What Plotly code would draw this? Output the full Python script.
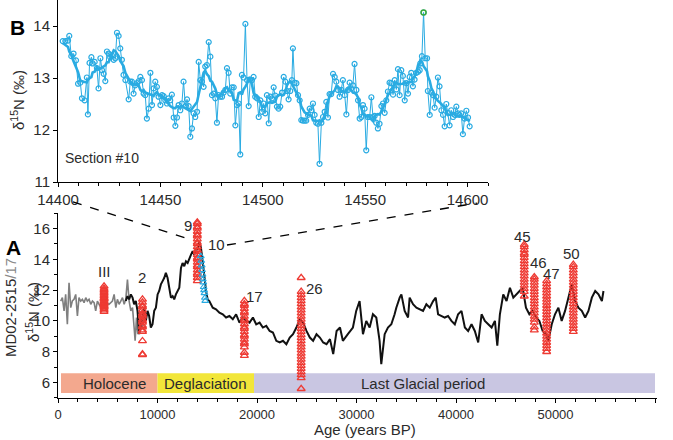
import plotly.graph_objects as go
import pandas as pd

# ---------------- Panel B data (Section #10) ----------------
b_age = [14402.3, 14403.6, 14404.9, 14405.5, 14406.5, 14407.6, 14408.8, 14409.8, 14410.9, 14411.7,
         14413.0, 14414.1, 14414.6, 14415.4, 14416.3, 14416.9, 14417.9, 14419.0, 14419.8, 14420.7,
         14421.5, 14422.3, 14423.1, 14423.9, 14424.7, 14425.5, 14426.3, 14427.2, 14428.0, 14428.8,
         14429.6, 14430.4, 14431.2, 14432.0, 14432.9, 14434.5, 14435.3, 14436.1, 14436.9, 14437.7,
         14438.6, 14439.4, 14440.2, 14441.0, 14441.8, 14442.6, 14443.4, 14444.3, 14445.1, 14445.9,
         14446.7, 14447.5, 14448.3, 14449.1, 14450.0, 14450.8, 14451.6, 14452.4, 14453.2, 14454.0,
         14454.8, 14455.6, 14456.5, 14457.3, 14458.1, 14458.9, 14459.7, 14460.5, 14461.3, 14462.2,
         14463.0, 14463.8, 14464.6, 14465.4, 14466.2, 14467.0, 14467.9, 14468.7, 14469.5, 14470.3,
         14471.1, 14471.9, 14472.7, 14473.6, 14474.4, 14475.2, 14476.0, 14476.8, 14477.6, 14478.4,
         14479.2, 14480.1, 14480.9, 14481.7, 14482.5, 14483.3, 14484.1, 14484.9, 14485.8, 14486.6,
         14487.4, 14488.2, 14489.0, 14489.8, 14490.6, 14491.5, 14492.3, 14493.1, 14493.9, 14494.7,
         14495.5, 14496.3, 14497.2, 14498.0, 14498.8, 14499.6, 14500.4, 14501.2, 14502.0, 14502.9,
         14503.7, 14504.5, 14505.3, 14506.1, 14506.9, 14507.7, 14508.5, 14509.4, 14510.2, 14511.0,
         14511.8, 14512.6, 14513.4, 14514.2, 14514.7, 14515.5, 14516.4, 14517.2, 14518.0, 14518.8,
         14519.6, 14520.4, 14521.2, 14522.1, 14522.9, 14523.7, 14524.5, 14525.3, 14526.1, 14526.9,
         14527.7, 14528.6, 14529.4, 14530.2, 14531.0, 14531.8, 14532.6, 14533.4, 14534.3, 14535.1,
         14535.9, 14536.7, 14537.5, 14538.3, 14539.1, 14540.0, 14540.8, 14541.6, 14542.4, 14543.2,
         14544.0, 14544.8, 14545.7, 14546.5, 14547.3, 14548.1, 14548.9, 14549.7, 14550.5, 14551.3,
         14552.2, 14553.0, 14553.8, 14554.6, 14555.4, 14556.2, 14557.0, 14557.9, 14558.7, 14559.5,
         14560.3, 14561.1, 14561.9, 14562.7, 14563.6, 14564.4, 14565.2, 14566.0, 14566.8, 14567.6,
         14568.4, 14569.3, 14570.1, 14570.9, 14571.7, 14572.5, 14573.3, 14574.1, 14575.0, 14575.8,
         14576.6, 14576.9, 14577.7, 14578.5, 14579.3, 14580.2, 14580.6, 14581.5, 14582.3, 14583.1,
         14583.9, 14584.7, 14585.5, 14586.3, 14587.2, 14588.0, 14588.8, 14589.6, 14590.4, 14591.2,
         14592.0, 14592.9, 14593.7, 14594.5, 14595.3, 14596.1, 14596.9, 14597.7, 14598.5, 14599.4,
         14600.2, 14601.0]
b_d15n = [13.71, 13.71, 13.72, 13.81, 13.42, 13.47, 13.34, 12.89, 12.91, 12.61,
          12.57, 13.01, 12.30, 13.29, 13.40, 13.28, 13.31, 13.19, 12.80, 13.38,
          13.15, 13.08, 12.94, 13.51, 13.47, 13.40, 13.44, 13.35, 13.38, 13.87,
          13.81, 13.57, 13.35, 13.06, 12.96, 12.59, 12.93, 12.93, 12.70, 12.86,
          12.90, 12.94, 13.02, 12.96, 12.70, 12.67, 12.22, 12.41, 13.10, 12.48,
          12.80, 12.93, 12.83, 12.64, 12.48, 12.67, 12.65, 12.57, 12.51, 12.61,
          12.57, 12.68, 12.24, 12.08, 12.24, 12.48, 12.38, 12.51, 12.93, 12.46,
          12.59, 12.46, 11.87, 12.03, 12.32, 12.25, 12.35, 13.31, 12.96, 12.93,
          12.83, 13.22, 13.25, 13.69, 13.41, 12.67, 12.70, 12.61, 12.14, 12.67,
          12.64, 12.64, 12.72, 12.77, 13.19, 13.10, 12.70, 12.82, 12.82, 12.09,
          12.48, 12.51, 11.53, 13.06, 13.01, 14.04, 12.96, 12.46, 12.97, 12.96,
          13.02, 12.64, 12.61, 12.25, 12.57, 12.35, 12.51, 12.32, 12.67, 12.13,
          12.64, 12.61, 12.82, 12.66, 12.45, 12.41, 12.45, 12.72, 13.02, 12.93,
          12.75, 12.59, 12.75, 12.96, 13.57, 12.91, 12.90, 12.67, 12.57, 12.19,
          12.18, 12.18, 12.18, 12.29, 12.41, 12.38, 12.51, 12.29, 12.14, 12.12,
          11.35, 12.14, 12.25, 12.35, 12.54, 12.24, 12.69, 12.69, 13.08, 13.02,
          12.93, 12.77, 12.64, 12.77, 12.96, 12.67, 12.30, 12.77, 12.91, 12.80,
          12.86, 13.27, 12.77, 12.57, 12.22, 12.25, 12.48, 12.41, 11.61, 12.25,
          12.25, 12.63, 12.25, 12.27, 12.14, 12.03, 12.12, 12.46, 12.51, 12.33,
          12.57, 12.74, 12.91, 12.90, 12.68, 12.96, 12.78, 13.17, 12.67, 13.15,
          13.04, 12.57, 12.90, 12.70, 13.02, 13.10, 12.84, 12.97, 13.10, 13.12,
          13.15, 13.28, 13.42, 14.26, 13.38, 13.38, 12.75, 12.29, 12.72, 12.67,
          12.43, 12.64, 13.01, 12.84, 12.38, 12.29, 12.07, 12.50, 12.33, 12.09,
          12.38, 12.25, 12.29, 12.45, 12.32, 12.29, 12.32, 11.92, 12.22, 12.37,
          12.24, 12.07]

# ---------------- Panel A data ----------------
gray_age = [270, 440, 610, 770, 940, 1110, 1280, 1440, 1610, 1780, 1950, 2110, 2280, 2450, 2620,
            2790, 2950, 3120, 3290, 3460, 3630, 3790, 3960, 4130, 4300, 4460, 4800, 5130, 5470,
            5640, 5810, 5970, 6140, 6310, 6480, 6650, 6810, 6980, 7150, 7320, 7490, 7650, 7750,
            7890, 8020, 8160, 8320, 8490, 8660, 8830]
gray_d15n = [11.29, 11.51, 10.65, 11.72, 9.78, 12.47, 10.86, 11.29, 11.40, 11.72, 10.32, 11.51,
             11.29, 11.40, 11.18, 11.51, 11.29, 11.40, 11.08, 11.29, 11.18, 10.65, 11.29, 11.08,
             10.86, 10.97, 11.18, 11.08, 11.29, 11.72, 10.86, 11.40, 11.08, 11.29, 11.51, 11.08,
             11.40, 12.69, 11.29, 10.65, 10.86, 9.57, 8.71, 10.22, 9.14, 10.65, 10.22, 9.57,
             10.32, 10.0]

black_age = [6810, 6980, 7150, 7320, 7490, 7650, 7820, 7990, 8160, 8320, 8490, 8660, 8830, 9000,
             9160, 9330, 9500, 9670, 9840, 10010, 10170, 10340, 10510, 10680, 10840, 11010, 11180,
             11350, 11520, 11680, 11850, 12020, 12190, 12360, 12520, 12690, 12860, 13030, 13200,
             13370, 13530, 13700, 13870, 14040, 14200, 14370, 14540, 14710, 14880, 15040, 15210,
             15550, 15880, 16220, 16560, 16890, 17230, 17570, 17900, 18240, 18580, 18910, 19250,
             19590, 19920, 20260, 20590, 20930, 21270, 21600, 21940, 22280, 22610, 22950, 23290,
             23620, 23960, 24300, 24630, 24970, 25310, 25640, 25980, 26320, 26650, 26990, 27330,
             27660, 28000, 28340, 28630, 29130, 29640, 29970, 30310, 30650, 30980, 31320, 31650,
             31990, 32320, 32490, 32830, 33160, 33500, 33830, 34000, 34340, 34510, 34840, 35180,
             35340, 35680, 36020, 36350, 36690, 37020, 37360, 37700, 37960, 38200, 38530, 38870,
             39200, 39540, 39880, 40210, 40550, 40890, 41220, 41560, 41890, 42230, 42570, 42900,
             43240, 43580, 43910, 44150, 44410, 44750, 45080, 45420, 45760, 46090, 46430, 46700,
             47030, 47370, 47700, 48040, 48380, 48710, 49050, 49280, 49620, 49950, 50290, 50620,
             50960, 51300, 51630, 51970, 52300, 52640, 52980, 53310, 53650, 53990, 54320, 54660,
             54820]
black_d15n = [11.29, 11.61, 11.40, 11.72, 11.51, 11.08, 11.29, 10.65, 9.14, 9.78, 10.43, 10.86,
              10.0, 10.65, 10.32, 9.57, 9.78, 10.65, 10.86, 11.72, 11.94, 12.37, 12.58, 12.80,
              13.12, 12.80, 12.15, 11.51, 11.61, 11.40, 11.72, 11.94, 12.15, 13.44, 13.76, 13.55,
              13.87, 13.76, 13.98, 14.30, 14.52, 14.30, 14.73, 14.62, 15.16, 14.73, 13.87, 12.80,
              11.94, 11.40, 11.29, 10.86, 10.75, 10.54, 10.43, 10.22, 10.32, 10.11, 10.43, 9.89,
              10.22, 10.0, 9.89, 10.22, 9.78, 9.89, 9.57, 9.68, 9.35, 9.25, 8.71, 8.60, 8.71,
              8.49, 8.92, 9.14, 9.57, 10.11, 9.89, 9.35, 8.92, 8.71, 9.14, 8.92, 8.60, 8.49, 8.82,
              7.85, 9.35, 9.57, 8.71, 9.14, 9.57, 10.65, 11.29, 9.14, 10.0, 9.57, 10.43, 10.22,
              8.71, 7.20, 9.14, 9.57, 9.78, 10.43, 10.86, 11.51, 11.72, 10.65, 10.22, 11.51,
              11.08, 10.86, 10.75, 10.65, 11.08, 10.86, 11.29, 11.51, 10.43, 10.32, 10.22, 10.32,
              10.0, 9.78, 10.43, 10.65, 9.57, 9.35, 9.78, 9.35, 8.60, 10.43, 10.0, 9.78, 9.57,
              10.0, 8.39, 10.43, 11.72, 11.29, 12.15, 11.51, 11.72, 11.94, 12.15, 10.86, 10.43,
              10.65, 10.22, 10.0, 9.35, 9.14, 8.71, 9.78, 10.43, 10.86, 10.0, 10.65, 11.51,
              12.37, 11.29, 10.86, 10.65, 10.22, 10.65, 11.51, 11.94, 11.72, 11.29, 11.94]

# Discrete sections (red triangles), age and measured values
sec_names = ["III", "2", "9", "17", "26", "45", "46", "47", "50"]
sec_ages = [4630, 8490, 14000, 18730, 24440, 46860, 47870, 49110, 51790]
sec_vals = [
    [12.25, 12.1, 12.0, 11.9, 11.8, 11.7, 11.6, 11.5, 11.45, 11.4, 11.3, 11.2, 11.15, 11.1, 11.0,
     10.95, 10.9, 10.8, 10.7, 10.6],
    [11.4, 11.2, 11.0, 10.9, 10.7, 10.5, 10.4, 10.3, 10.1, 10.0, 9.9, 9.7, 9.6, 9.4, 9.3, 8.7,
     7.85, 7.8],
    [16.4, 16.3, 16.1, 16.0, 15.8, 15.6, 15.5, 15.3, 15.1, 15.0, 14.8, 14.6, 14.5, 14.3, 14.1,
     14.0, 13.8, 13.6, 13.5, 13.3, 13.1, 13.0, 12.8, 12.6],
    [11.3, 11.1, 11.0, 10.8, 10.6, 10.5, 10.3, 10.1, 10.0, 9.8, 9.6, 9.5, 9.3, 9.1, 9.0, 8.8,
     8.6, 8.5, 8.3, 7.95, 7.75],
    [12.8, 11.9, 11.7, 11.5, 11.3, 11.1, 10.9, 10.7, 10.5, 10.3, 10.1, 9.9, 9.7, 9.5, 9.3, 9.1,
     8.9, 8.7, 8.5, 8.3, 8.1, 7.9, 7.7, 7.5, 7.3, 7.1, 6.9, 6.7, 6.5, 6.3, 5.6],
    [14.95, 14.8, 14.6, 14.4, 14.3, 14.1, 13.9, 13.7, 13.5, 13.3, 13.1, 12.9, 12.7, 12.5, 12.3,
     12.1, 11.9, 11.6],
    [12.85, 12.7, 12.5, 12.3, 12.1, 11.9, 11.7, 11.5, 11.3, 11.1, 10.9, 10.7, 10.5, 10.3, 10.1,
     9.9, 9.6, 9.4],
    [12.6, 12.4, 12.2, 12.0, 11.8, 11.6, 11.4, 11.2, 11.0, 10.8, 10.6, 10.4, 10.2, 10.0, 9.8, 9.6,
     9.4, 9.2, 9.0, 8.8, 8.6, 8.4, 8.2, 8.0],
    [13.65, 13.5, 13.3, 13.1, 12.9, 12.7, 12.5, 12.3, 12.1, 11.9, 11.7, 11.5, 11.3, 11.1, 10.9,
     10.7, 10.5, 10.3, 10.1, 9.9, 9.7, 9.5, 9.3],
]
# label positions for the section numbers
sec_label_age = [4630, 8470, 13020, 19740, 25780, 46690, 48270, 49610, 51630]
sec_label_val = [13.2, 12.8, 16.2, 11.6, 12.1, 15.5, 13.76, 13.1, 14.4]

# Section #10 shown in panel A (blue triangles)
sec10_age = [14350, 14400, 14440, 14480, 14520, 14560, 14600, 14640, 14680, 14720, 14760, 14800]
sec10_val = [14.2, 13.9, 13.6, 13.3, 13.0, 12.7, 12.5, 12.2, 12.0, 11.8, 11.5, 11.3]
sec10_label = ("10", 15880, 14.95)

# Climate periods
period_names = ["Holocene", "Deglaciation", "Last Glacial period"]
period_start = [300, 10000, 19700]
period_end = [10000, 19700, 60000]
period_label_x = [5640, 14870, 36650]
period_colors = ["#F3A88E", "#F2E63A", "#C9C6E2"]

# tick labels
a_xticks = [0, 10000, 20000, 30000, 40000, 50000, 60000]
a_yticks = [6, 8, 10, 12, 14, 16]
b_xticks = [14400, 14450, 14500, 14550, 14600]
b_yticks = [11, 12, 13, 14]

# ---------------- Figure ----------------
FONT = "Liberation Sans, Arial, sans-serif"
TXT = "#2b2b2b"
BLUE = "#29ABE2"
RED = "#EE3A33"

fig = go.Figure()

# Panel B
fig.add_trace(go.Scatter(x=b_age, y=b_d15n, mode="lines+markers", xaxis="x2", yaxis="y2",
                         line=dict(color=BLUE, width=1),
                         marker=dict(symbol="circle-open", size=5, color=BLUE, line=dict(width=1.2)),
                         showlegend=False))
smooth = pd.Series(b_d15n).rolling(window=9, center=True, min_periods=3).mean()
fig.add_trace(go.Scatter(x=b_age, y=smooth, mode="lines", xaxis="x2", yaxis="y2",
                         line=dict(color=BLUE, width=2.6), showlegend=False))
imax = b_d15n.index(max(b_d15n))
fig.add_trace(go.Scatter(x=[b_age[imax]], y=[b_d15n[imax]], mode="markers", xaxis="x2", yaxis="y2",
                         marker=dict(symbol="circle-open", size=5, color="#3DAA3D", line=dict(width=1.5)),
                         showlegend=False))

# Panel A
fig.add_trace(go.Scatter(x=gray_age, y=gray_d15n, mode="lines", line=dict(color="#7f7f7f", width=1.6),
                         showlegend=False))
fig.add_trace(go.Scatter(x=black_age, y=black_d15n, mode="lines", line=dict(color="#111111", width=2),
                         showlegend=False))
for age, vals in zip(sec_ages, sec_vals):
    fig.add_trace(go.Scatter(x=[age] * len(vals), y=vals, mode="markers",
                             marker=dict(symbol="triangle-up-open", size=7, color=RED, line=dict(width=1.3)),
                             showlegend=False))
fig.add_trace(go.Scatter(x=sec10_age, y=sec10_val, mode="markers",
                         marker=dict(symbol="triangle-up-open", size=6, color=BLUE, line=dict(width=1.1)),
                         showlegend=False))

shapes = []
for s, e, c in zip(period_start, period_end, period_colors):
    shapes.append(dict(type="rect", xref="x", yref="y", x0=s, x1=e, y0=5.32, y1=6.6,
                       fillcolor=c, line=dict(width=0), layer="below"))
# dashed connector lines (paper coordinates)
shapes.append(dict(type="line", xref="paper", yref="paper", x0=0.025, y0=0.4925, x1=0.2237, y1=0.397,
                   line=dict(color="black", width=1.3, dash="dash")))
shapes.append(dict(type="line", xref="paper", yref="paper", x0=0.2821, y0=0.3844, x1=0.6995, y1=0.4899,
                   line=dict(color="black", width=1.3, dash="dash")))

def txt(text, x, y, xref="paper", yref="paper", size=15, angle=0, xanchor="center", color=TXT):
    return dict(text=text, x=x, y=y, xref=xref, yref=yref, showarrow=False, textangle=angle,
                xanchor=xanchor, yanchor="middle", font=dict(size=size, color=color, family=FONT))

ann = []
for n, x, y in zip(sec_names, sec_label_age, sec_label_val):
    ann.append(txt(n, x, y, "x", "y"))
ann.append(txt(sec10_label[0], sec10_label[1], sec10_label[2], "x", "y"))
for n, x in zip(period_names, period_label_x):
    ann.append(txt(n, x, 5.96, "x", "y"))
ann += [
    txt("<b>A</b>", -0.0735, 0.379, size=21, color="black"),
    txt("<b>B</b>", -0.0684, 0.932, size=21, color="black"),
    txt("MD02-2515<span style='color:#8a8a8a'>/17</span>", -0.0801, 0.226, size=15, angle=-90),
    txt("δ<sup>15</sup>N (‰)", -0.0434, 0.216, size=15, angle=-90),
    txt("δ<sup>15</sup>N (‰)", -0.0684, 0.7487, size=15, angle=-90),
    txt("Age (years BP)", 0.5125, -0.0804, size=15),
    txt("Section #10", 14402.5, 11.46, "x2", "y2", size=14, xanchor="left"),
]

axis_common = dict(showline=True, linecolor="black", linewidth=1, ticks="outside", ticklen=4,
                   tickcolor="black", showgrid=False, zeroline=False)

fig.update_layout(
    width=673, height=440,
    margin=dict(l=58, r=16, t=0, b=42),
    paper_bgcolor="white", plot_bgcolor="white",
    shapes=shapes, annotations=ann,
    xaxis=dict(axis_common, domain=[0, 1], range=[0, 60200], anchor="y",
               tickvals=a_xticks, ticktext=[str(v) for v in a_xticks],
               tickfont=dict(family=FONT, color=TXT, size=13),
               minor=dict(dtick=2000, tick0=0, ticks="outside", ticklen=3, tickcolor="black")),
    yaxis=dict(axis_common, domain=[0, 0.4648], range=[5, 17], anchor="x",
               tickvals=a_yticks, ticktext=[str(v) for v in a_yticks],
               tickfont=dict(family=FONT, color=TXT, size=15),
               minor=dict(dtick=1, tick0=5, ticks="outside", ticklen=3, tickcolor="black")),
    xaxis2=dict(axis_common, domain=[0, 0.718], range=[14400, 14610], anchor="y2",
                tickvals=b_xticks, ticktext=[str(v) for v in b_xticks],
                tickfont=dict(family=FONT, color=TXT, size=15),
                minor=dict(dtick=10, tick0=14400, ticks="outside", ticklen=3, tickcolor="black")),
    yaxis2=dict(axis_common, domain=[0.5427, 1], range=[11, 14.5], anchor="x2",
                tickvals=b_yticks, ticktext=[str(v) for v in b_yticks],
                tickfont=dict(family=FONT, color=TXT, size=15)),
)

fig.write_html("out.html")
